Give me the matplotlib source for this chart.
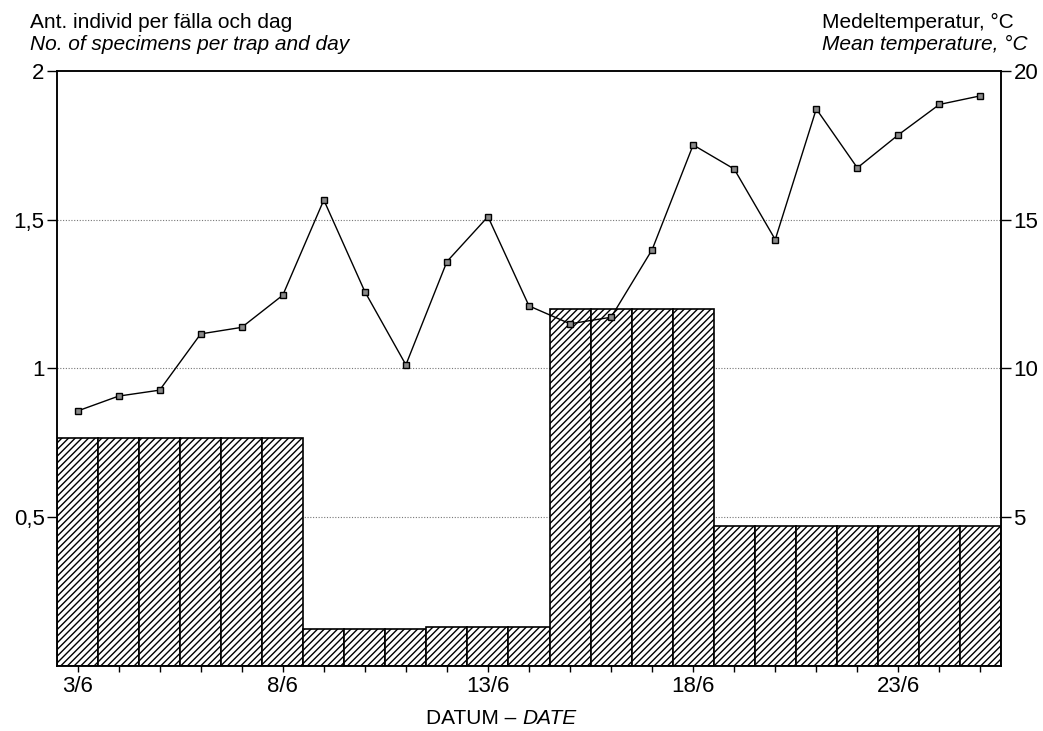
import numpy as np
import matplotlib
matplotlib.use('Agg')
import matplotlib.pyplot as plt

plt.rcParams['font.family'] = ['Liberation Sans', 'DejaVu Sans']
plt.rcParams['hatch.linewidth'] = 1.0

# data
dates = ['3/6', '4/6', '5/6', '6/6', '7/6', '8/6', '9/6', '10/6', '11/6', '12/6',
         '13/6', '14/6', '15/6', '16/6', '17/6', '18/6', '19/6', '20/6', '21/6',
         '22/6', '23/6', '24/6', '25/6']
catch = [0.765, 0.765, 0.765, 0.765, 0.765, 0.765,
         0.125, 0.125, 0.125, 0.13, 0.13, 0.132,
         1.2, 1.2, 1.2, 1.2,
         0.47, 0.47, 0.47, 0.47, 0.47, 0.47, 0.47]
temp = [8.57, 9.07, 9.27, 11.16, 11.38, 12.46, 15.66, 12.58, 10.12, 13.59,
        15.1, 12.1, 11.5, 11.72, 13.99, 17.51, 16.7, 14.33, 18.72, 16.74,
        17.85, 18.87, 19.16]
left_ticks = [0.5, 1, 1.5, 2]
left_labels = ['0,5', '1', '1,5', '2']
right_ticks = [5, 10, 15, 20]
label_every = 5

x = np.arange(len(dates))

fig = plt.figure(figsize=(10.43, 7.31), dpi=100)
ax = fig.add_axes([0.0547, 0.0889, 0.905, 0.8142])

for yv in left_ticks[:-1]:
    ax.axhline(yv, color='#777777', lw=0.8, ls=(0, (1, 1.5)), zorder=0)

ax.bar(x, catch, width=1.0, color='white', edgecolor='black', linewidth=1.2,
       hatch='/////', zorder=2)

ax.set_xlim(-0.5, len(dates) - 0.5)
ax.set_ylim(0, 2)
ax.set_yticks(left_ticks)
ax.set_yticklabels(left_labels)
ax.set_xticks(x)
ax.set_xticklabels([d if i % label_every == 0 else '' for i, d in enumerate(dates)])
ax.tick_params(axis='x', direction='inout', length=9, width=1, labelsize=16, pad=3)
ax.tick_params(axis='y', direction='out', length=7, width=1, labelsize=16, pad=2)
for s in ax.spines.values():
    s.set_linewidth(1.1)

ax2 = ax.twinx()
ax2.plot(x, temp, color='black', lw=1.0, marker='s', markersize=5,
         markerfacecolor='#8a8a8a', markeredgecolor='black', markeredgewidth=1.0,
         zorder=5)
ax2.set_ylim(0, 20)
ax2.set_yticks(right_ticks)
ax2.tick_params(axis='y', direction='out', length=7, width=1, labelsize=16, pad=2)
for s in ax2.spines.values():
    s.set_linewidth(1.1)

def fx(px):
    return px / 1043

def fy(py):
    return 1 - py / 731

fig.text(fx(30), fy(28), 'Ant. individ per fälla och dag', fontsize=15, va='baseline')
fig.text(fx(30), fy(50), 'No. of specimens per trap and day', fontsize=15,
         style='italic', va='baseline')
fig.text(fx(822), fy(28), 'Medeltemperatur, °C', fontsize=15, va='baseline')
fig.text(fx(822), fy(50), 'Mean temperature, °C', fontsize=15, style='italic',
         va='baseline')

fig.text(fx(522), fy(718), 'DATUM \u2013 ', fontsize=15, ha='right', va='center')
fig.text(fx(522), fy(718), 'DATE', fontsize=15, style='italic', ha='left', va='center')

fig.savefig('out.png', dpi=100)
